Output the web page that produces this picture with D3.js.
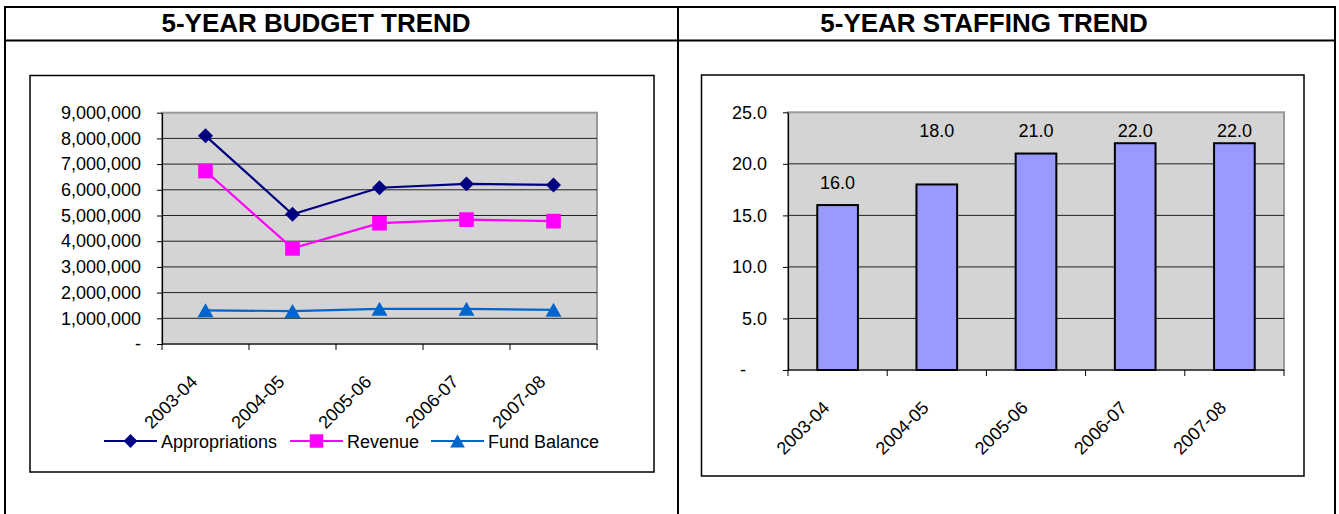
<!DOCTYPE html>
<html>
<head>
<meta charset="utf-8">
<script src="https://cdn.jsdelivr.net/npm/d3@7"></script>
<style>
  html, body { margin: 0; padding: 0; background: #fff; }
  svg { display: block; font-family: "Liberation Sans", Arial, sans-serif; }
</style>
</head>
<body>
<svg id="chart" width="1339" height="514"></svg>
<script>
// ---- data ----
const categories = ["2003-04", "2004-05", "2005-06", "2006-07", "2007-08"];
const appropriations = [8100000, 5050000, 6080000, 6230000, 6190000];
const revenue = [6730000, 3720000, 4700000, 4840000, 4780000];
const fundBalance = [1310000, 1280000, 1370000, 1370000, 1330000];
const staffing = [16, 18, 21, 22, 22];
const budgetTicks = [0, 1000000, 2000000, 3000000, 4000000, 5000000, 6000000, 7000000, 8000000, 9000000];
const staffTicks = [0, 5, 10, 15, 20, 25];
const titles = ["5-YEAR BUDGET TREND", "5-YEAR STAFFING TREND"];
const seriesNames = ["Appropriations", "Revenue", "Fund Balance"];

const svg = d3.select("#chart");
const FONT = 18;

// ---- outer table ----
const tbl = svg.append("g").attr("stroke", "#000").attr("stroke-width", 2).attr("fill", "none");
tbl.append("line").attr("x1", 4).attr("x2", 1336).attr("y1", 7).attr("y2", 7);
tbl.append("line").attr("x1", 4).attr("x2", 1336).attr("y1", 40.5).attr("y2", 40.5);
tbl.append("line").attr("x1", 5).attr("x2", 5).attr("y1", 6).attr("y2", 514);
tbl.append("line").attr("x1", 678).attr("x2", 678).attr("y1", 6).attr("y2", 514);
tbl.append("line").attr("x1", 1335).attr("x2", 1335).attr("y1", 6).attr("y2", 514);

svg.append("text").attr("x", 316).attr("y", 32).attr("text-anchor", "middle")
  .attr("font-size", 26).attr("font-weight", "bold").text(titles[0]);
svg.append("text").attr("x", 984).attr("y", 32).attr("text-anchor", "middle")
  .attr("font-size", 26).attr("font-weight", "bold").text(titles[1]);

// ---- helpers ----
function chartBox(x0, y0, x1, y1) {
  svg.append("rect").attr("x", x0).attr("y", y0).attr("width", x1 - x0).attr("height", y1 - y0)
    .attr("fill", "#fff").attr("stroke", "#000").attr("stroke-width", 1.5);
}
function plotArea(x, y, ticks, gridColor) {
  const [xl, xr] = x.range();
  const [yb, yt] = y.range();
  svg.append("rect").attr("x", xl).attr("y", yt).attr("width", xr - xl).attr("height", yb - yt)
    .attr("fill", "#d4d4d4").attr("stroke", "#9a9a9a").attr("stroke-width", 2);
  svg.append("g").selectAll("line").data(ticks.filter(t => y(t) > yt + 1 && y(t) < yb - 1)).join("line")
    .attr("x1", xl).attr("x2", xr).attr("y1", d => y(d)).attr("y2", d => y(d))
    .attr("stroke", gridColor).attr("stroke-width", 1);
}
function yAxis(x, y, ticks, fmt, zeroDx) {
  const g = svg.append("g").attr("transform", `translate(${x.range()[0]},0)`)
    .call(d3.axisLeft(y).tickValues(ticks).tickSizeInner(5).tickSizeOuter(0).tickPadding(16).tickFormat(fmt));
  g.select(".domain").attr("stroke", "#000").attr("stroke-width", 1.2);
  g.selectAll(".tick line").attr("stroke", "#000");
  g.selectAll(".tick text").attr("font-size", FONT).attr("fill", "#000")
    .attr("font-family", "Liberation Sans, Arial, sans-serif")
    .attr("dx", d => d === 0 ? zeroDx : 0);
}
function xAxis(x, y) {
  const yb = y.range()[0];
  const bounds = categories.map(c => x(c)).concat([x.range()[1]]);
  const g = svg.append("g");
  g.append("line").attr("x1", x.range()[0]).attr("x2", x.range()[1]).attr("y1", yb).attr("y2", yb)
    .attr("stroke", "#000").attr("stroke-width", 1.2);
  g.selectAll("line.tk").data(bounds).join("line").attr("class", "tk")
    .attr("x1", d => d).attr("x2", d => d).attr("y1", yb).attr("y2", yb + 6)
    .attr("stroke", "#000").attr("stroke-width", 1);
  g.selectAll("text").data(categories).join("text")
    .attr("transform", d => `translate(${x(d) + x.bandwidth() / 2 - 7},${yb + 39}) rotate(-45)`)
    .attr("text-anchor", "end").attr("font-size", FONT).text(d => d);
}
const zeroDash = f => d => d === 0 ? "-" : f(d);

// ---- left chart: budget ----
chartBox(30, 75.5, 654, 472);
const xL = d3.scaleBand().domain(categories).range([162, 597]).padding(0);
const yL = d3.scaleLinear().domain([0, 9000000]).range([344, 112.7]);
plotArea(xL, yL, budgetTicks, "#222");
xAxis(xL, yL);
yAxis(xL, yL, budgetTicks, zeroDash(d3.format(",")), 0);

const diamond = d3.symbol().type(d3.symbolSquare).size(112);
const squareSym = d3.symbol().type(d3.symbolSquare).size(215);
function triPath(w, h) { return `M0,${-h / 2}L${w / 2},${h / 2}L${-w / 2},${h / 2}Z`; }

const series = [
  { name: seriesNames[0], values: appropriations, color: "#000080", marker: "diamond" },
  { name: seriesNames[1], values: revenue, color: "#FF00FF", marker: "square" },
  { name: seriesNames[2], values: fundBalance, color: "#0066CC", marker: "triangle" }
];
function drawMarker(g, type, color, k) {
  const sc = k || 1;
  if (type === "diamond") g.append("path").attr("d", diamond()).attr("transform", `rotate(45) scale(${sc})`).attr("fill", color);
  else if (type === "square") g.append("path").attr("d", squareSym()).attr("transform", `scale(${sc})`).attr("fill", color);
  else g.append("path").attr("d", triPath(16, 14)).attr("transform", `scale(${sc})`).attr("fill", color);
}
const cx = c => xL(c) + xL.bandwidth() / 2;
const lineGen = d3.line().x((d, i) => cx(categories[i])).y(d => yL(d));
series.forEach(s => {
  svg.append("path").attr("d", lineGen(s.values)).attr("fill", "none")
    .attr("stroke", s.color).attr("stroke-width", 2.2);
  s.values.forEach((v, i) => {
    const g = svg.append("g").attr("transform", `translate(${cx(categories[i])},${yL(v)})`);
    drawMarker(g, s.marker, s.color);
  });
});

// legend
const legendX = [104, 290, 431];
series.forEach((s, i) => {
  const g = svg.append("g").attr("transform", `translate(${legendX[i]},441)`);
  g.append("line").attr("x1", 0).attr("x2", 53).attr("y1", 0).attr("y2", 0)
    .attr("stroke", s.color).attr("stroke-width", 2.2);
  const m = g.append("g").attr("transform", "translate(26.5,0)");
  drawMarker(m, s.marker, s.color, 0.92);
  g.append("text").attr("x", 57).attr("y", 6.5).attr("font-size", FONT).text(s.name);
});

// ---- right chart: staffing ----
chartBox(701.5, 75, 1304, 476);
const xR = d3.scaleBand().domain(categories).range([788, 1284]).padding(0);
const yR = d3.scaleLinear().domain([0, 25]).range([370, 112.3]);
plotArea(xR, yR, staffTicks, "#222");
const barW = xR.bandwidth() * 0.41;
svg.append("g").selectAll("rect").data(staffing).join("rect")
  .attr("x", (d, i) => xR(categories[i]) + xR.bandwidth() / 2 - barW / 2)
  .attr("y", d => yR(d))
  .attr("width", barW)
  .attr("height", d => yR(0) - yR(d))
  .attr("fill", "#9999FF").attr("stroke", "#000").attr("stroke-width", 2);
// Excel placed the first label just above its bar, the rest on one common row near the top
const labelTop = yR(22.6);
svg.append("g").selectAll("text").data(staffing).join("text")
  .attr("x", (d, i) => xR(categories[i]) + xR.bandwidth() / 2)
  .attr("y", (d, i) => i === 0 ? yR(d) - 16 : labelTop)
  .attr("text-anchor", "middle").attr("font-size", FONT)
  .text(d => d3.format(".1f")(d));
xAxis(xR, yR);
yAxis(xR, yR, staffTicks, zeroDash(d3.format(".1f")), -21);
</script>
</body>
</html>
